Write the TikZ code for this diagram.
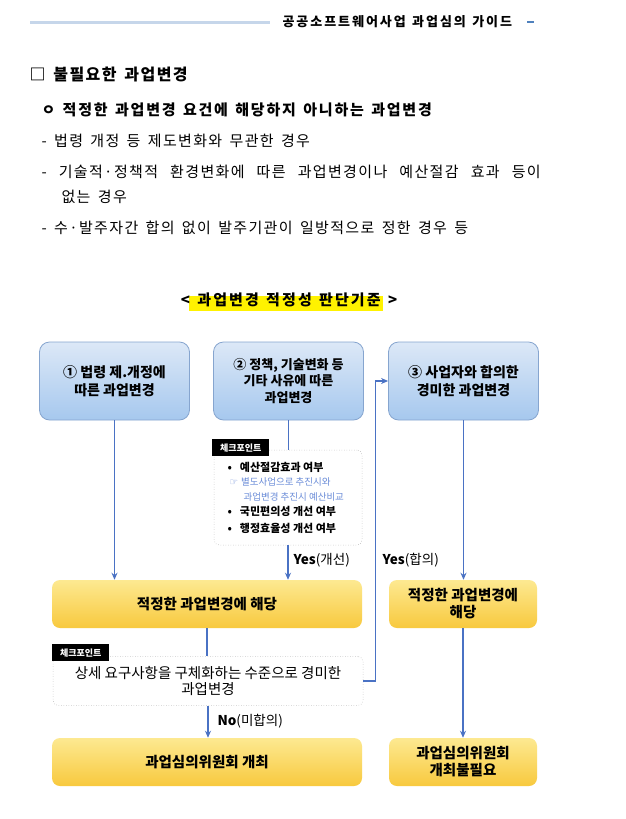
\documentclass[tikz,border=0pt]{standalone}
\usepackage{fontspec}
\setmainfont{Noto Sans CJK KR}
\newfontfamily\symfont{DejaVu Sans}
\usetikzlibrary{arrows.meta}

\definecolor{flowblue}{HTML}{4A72C4}
\definecolor{boxedge}{HTML}{86A5CF}
\definecolor{skytop}{HTML}{DCE8F7}
\definecolor{skybot}{HTML}{A6C8EE}
\definecolor{goldtop}{HTML}{FDE991}
\definecolor{goldbot}{HTML}{F8C93E}
\definecolor{rulebl}{HTML}{C6D6EA}
\definecolor{headblue}{HTML}{4F81BD}
\definecolor{hilite}{HTML}{FFF200}
\definecolor{notebl}{HTML}{6A8CD8}

\newcommand{\fsz}[2]{\fontsize{#1}{#2}\selectfont}
\newcommand{\wide}[1]{\addfontfeature{LetterSpace=#1}\spaceskip=0.49em plus 0.5em minus 0.1em\relax}

\tikzset{
  sky/.style={draw=boxedge, line width=0.8pt, rounded corners=10pt,
    top color=skytop, bottom color=skybot, minimum width=150pt,
    minimum height=78pt, align=center, font=\fsz{14}{18}\bfseries},
  gold/.style={rounded corners=8pt, top color=goldtop, bottom color=goldbot,
    minimum height=48pt, align=center, font=\fsz{14.5}{17}\bfseries},
  chkbox/.style={draw=gray!70, dotted, rounded corners=5pt},
  chktag/.style={fill=black, text=white, font=\fsz{9}{10}\bfseries,
    inner sep=2pt, minimum width=57pt, minimum height=17pt, anchor=north west},
  flow/.style={draw=flowblue, line width=1.1pt},
  arr/.style={flow, -{Stealth[length=7pt,width=6pt]}},
  body/.style={anchor=west, font=\fsz{15}{18}\wide{9}},
  item/.style={anchor=west, font=\fsz{11}{13}\bfseries},
  note/.style={anchor=west, font=\fsz{9.5}{11}, text=notebl},
  answer/.style={anchor=west, font=\fsz{13.5}{15}},
}

\begin{document}
\begin{tikzpicture}[x=1pt, y=-1pt, line width=0.5pt]
  \fill[white] (0,0) rectangle (626,819);
  \useasboundingbox (0,0) rectangle (626,819);

  \draw[rulebl, line width=3pt] (30,22) -- (270,22);
  \node[anchor=west, font=\fsz{13}{14}\bfseries\wide{15}] (guide) at (279,22) {공공소프트웨어사업 과업심의 가이드};
  \draw[headblue, line width=2.5pt] (527,22) -- (534,22);

  \node[anchor=west, font=\fsz{16}{18}\bfseries\wide{9}] (sect) at (26,74) {□ 불필요한 과업변경};
  \node[anchor=west, font=\fsz{15}{18}\bfseries\wide{12}] (lead) at (38,110) {ㅇ 적정한 과업변경 요건에 해당하지 아니하는 과업변경};
  \node[body] (dashA) at (38,141) {- 법령 개정 등 제도변화와 무관한 경우};
  \node[body] (dashB) at (38,172) {-\hspace{12pt}\makebox[482pt][s]{기술적·정책적 환경변화에 따른 과업변경이나 예산절감 효과 등이}};
  \node[body] (dashBb) at (58,197) {없는 경우};
  \node[body] (dashC) at (38,228) {- 수·발주자간 합의 없이 발주기관이 일방적으로 정한 경우 등};

  \fill[hilite] (189,296) rectangle (383,311);
  \node[font=\fsz{15}{16}\bfseries\wide{14}] (title) at (289,300) {< 과업변경 적정성 판단기준 >};

  \node[sky] (law) at (114.5,381) {① 법령 제.개정에\\따른 과업변경};
  \node[sky, font=\fsz{13}{16.5}\bfseries] (policy) at (288.5,381) {② 정책, 기술변화 등\\기타 사유에 따른\\과업변경};
  \node[sky] (agree) at (463.5,381) {③ 사업자와 합의한\\경미한 과업변경};

  \node[chkbox, minimum width=148pt, minimum height=95pt] (checkA) at (288,497.5) {};
  \node[chktag] (tagA) at (212,439) {체크포인트};
  \node[item] (itA) at (224,467) {•\hspace{8pt}예산절감효과 여부};
  \node[note] (ntA) at (226,482) {{\symfont ☞}\hspace{3pt}별도사업으로 추진시와};
  \node[note] (ntB) at (240,497) {과업변경 추진시 예산비교};
  \node[item] (itB) at (224,511) {•\hspace{8pt}국민편의성 개선 여부};
  \node[item] (itC) at (224,528) {•\hspace{8pt}행정효율성 개선 여부};

  \node[gold, minimum width=310pt] (fitA) at (207,604) {적정한 과업변경에 해당};
  \node[gold, minimum width=148pt] (fitB) at (463,604) {적정한 과업변경에\\해당};

  \node[chkbox, minimum width=310pt, minimum height=49pt, align=center, font=\fsz{14.5}{16.5}] (checkB) at (208,681) {상세 요구사항을 구체화하는 수준으로 경미한\\과업변경};
  \node[chktag] (tagB) at (52,644) {체크포인트};

  \node[gold, minimum width=310pt] (meet) at (207,762) {과업심의위원회 개최};
  \node[gold, minimum width=148pt] (nomeet) at (463,762) {과업심의위원회\\개최불필요};

  \node[answer] (yesA) at (290,560) {\textbf{Yes}(개선)};
  \node[answer] (yesB) at (379,560) {\textbf{Yes}(합의)};
  \node[answer] (noA) at (214,721) {\textbf{No}(미합의)};

  \draw[arr] (law.south) -- (law.south |- fitA.north);
  \draw[flow] (policy.south) -- (policy.south |- checkA.north);
  \draw[arr] (checkA.south) -- (checkA.south |- fitA.north);
  \draw[flow] (fitA.south) -- (fitA.south |- checkB.north);
  \draw[arr] (checkB.east) -- ++(12,0) |- (agree.west);
  \draw[arr] (checkB.south) -- (checkB.south |- meet.north);
  \draw[arr] (agree.south) -- (agree.south |- fitB.north);
  \draw[arr] (fitB.south) -- (fitB.south |- nomeet.north);
\end{tikzpicture}
\end{document}
